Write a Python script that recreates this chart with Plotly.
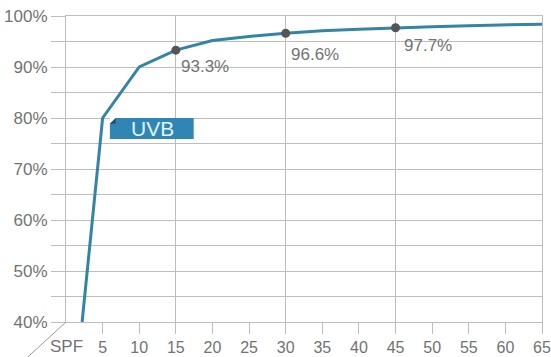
import plotly.graph_objects as go

# ---- data ----
spf = [2.2, 5, 10, 15, 20, 25, 30, 35, 40, 45, 50, 55, 60, 65]
uvb = [40, 80, 90, 93.3, 95.2, 96.0, 96.6, 97.1, 97.4, 97.7, 97.9, 98.1, 98.3, 98.4]
marked_spf = [15, 30, 45]
marked_uvb = [93.3, 96.6, 97.7]
marked_labels = ["93.3%", "96.6%", "97.7%"]
y_ticks = [40, 50, 60, 70, 80, 90, 100]
y_labels = ["40%", "50%", "60%", "70%", "80%", "90%", "100%"]
x_ticks = [5, 10, 15, 20, 25, 30, 35, 40, 45, 50, 55, 60, 65]
x_labels = [str(v) for v in x_ticks]
x_grid = [15, 30, 45]
series_name = "UVB"

FONT = "Liberation Sans, Arial, sans-serif"
GRID = "#bdbdbd"
TXT = "#737373"
LINE = "#3584a6"

fig = go.Figure()
fig.add_trace(go.Scatter(x=spf, y=uvb, mode="lines",
                         line=dict(color=LINE, width=3), hoverinfo="skip"))
fig.add_trace(go.Scatter(x=marked_spf, y=marked_uvb, mode="markers",
                         marker=dict(color="#555555", size=9), hoverinfo="skip"))

# data labels
offsets = [(3, -5), (3, -10), (6, -6)]
for xv, yv, lab, (dx, dy) in zip(marked_spf, marked_uvb, marked_labels, offsets):
    fig.add_annotation(x=xv, y=yv, text=lab, showarrow=False,
                       xanchor="left", yanchor="top", xshift=dx, yshift=dy,
                       font=dict(family=FONT, size=17, color=TXT))

# UVB label box
bx0, bx1, by0, by1 = 5.99, 17.44, 75.9, 80.0
fig.add_shape(type="rect", x0=bx0, x1=bx1, y0=by0, y1=by1, xref="x", yref="y",
              fillcolor="#2f86b5", line=dict(width=0), layer="above")
fig.add_shape(type="path", xref="x", yref="y",
              path=f"M {bx0} {by1} L {bx0+0.8} {by1} L {bx0} {by1-1.15} Z",
              fillcolor="white", line=dict(width=0), layer="above")
fig.add_shape(type="path", xref="x", yref="y",
              path=f"M {bx0} {by1-1.15} L {bx0+0.8} {by1} L {bx0+0.8} {by1-1.15} Z",
              fillcolor="#1c5573", line=dict(width=0), layer="above")
fig.add_annotation(x=(bx0 + bx1) / 2 + 0.1, y=(by0 + by1) / 2, text=series_name,
                   showarrow=False, xanchor="center", yanchor="middle",
                   font=dict(family=FONT, size=21, color="#e3f3fb"))

# SPF axis label and diagonal
fig.add_shape(type="line", xref="paper", yref="paper", x0=0, y0=0,
              x1=-0.08, y1=-0.114, line=dict(color="#9a9a9a", width=1))
fig.add_annotation(xref="paper", yref="paper", x=0.002, y=-0.08, text="SPF",
                   showarrow=False, xanchor="center", yanchor="middle",
                   font=dict(family=FONT, size=17, color=TXT))

fig.update_layout(
    width=551, height=357,
    margin=dict(l=66, r=9, t=16, b=35),
    plot_bgcolor="white", paper_bgcolor="white",
    showlegend=False,
    font=dict(family=FONT),
)
fig.update_xaxes(
    range=[0, 65], tickvals=x_ticks, ticktext=x_labels,
    ticks="outside", ticklen=11, tickcolor=GRID, tickwidth=1,
    ticklabelstandoff=0, automargin=False, ticklabeloverflow="allow",
    showgrid=False, zeroline=False,
    minor=dict(tickvals=x_grid, showgrid=True, gridcolor=GRID, gridwidth=1, ticks=""),
    showline=True, mirror=True, linecolor=GRID, linewidth=1,
    tickfont=dict(family=FONT, size=16, color=TXT),
)
fig.update_yaxes(
    range=[40, 100], tickvals=y_ticks, ticktext=y_labels,
    ticks="outside", ticklen=14, tickcolor=GRID, tickwidth=1,
    automargin=False, ticklabeloverflow="allow",
    showgrid=True, gridcolor=GRID, gridwidth=1, zeroline=False,
    minor=dict(dtick=5, tick0=40, ticks="outside", ticklen=14, tickcolor=GRID,
               showgrid=True, gridcolor=GRID, gridwidth=1),
    showline=True, mirror=True, linecolor=GRID, linewidth=1,
    tickfont=dict(family=FONT, size=17, color=TXT),
)

fig.write_html("out.html")
